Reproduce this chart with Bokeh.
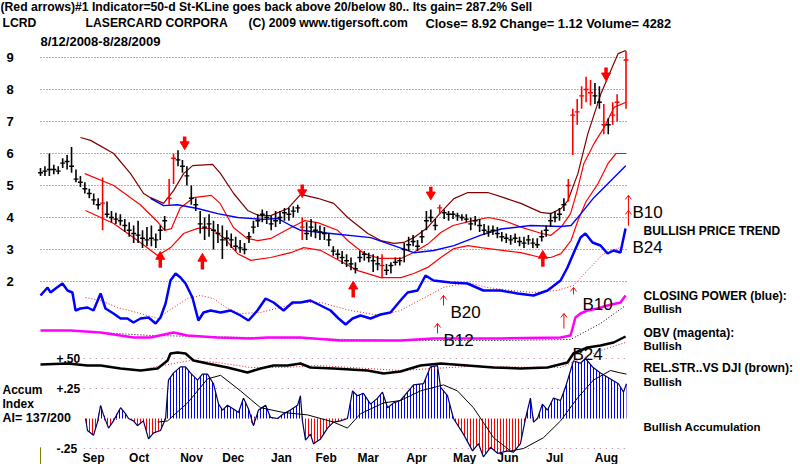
import numpy as np
from bokeh.plotting import figure
from bokeh.models import Range1d, Label
from bokeh.core.properties import value
from bokeh.embed import file_html
from bokeh.resources import INLINE

# ---------------- data ----------------
# daily bars sampled every 2 trading days from 8/12/2008 (day 0) to 8/28/2009 (day 264)
bar_day = list(range(0, 261, 2)) + [264]
bar_high = [5.55, 5.60, 6.00, 5.65, 5.60, 5.85, 5.95, 6.20, 5.50, 5.30,
            5.10, 4.90, 4.75, 4.60, 5.25, 4.50, 4.20, 4.15, 4.10, 3.95,
            3.85, 3.75, 3.90, 3.60, 3.70, 3.75, 3.50, 3.75, 4.05, 5.20,
            6.00, 6.10, 5.80, 5.60, 5.00, 4.60, 4.20, 4.00, 4.10, 3.90,
            3.80, 3.75, 3.60, 3.50, 3.40, 3.30, 3.20, 3.55, 3.90, 4.10,
            4.25, 4.20, 4.05, 4.20, 4.20, 4.30, 4.30, 4.35, 4.40, 4.00,
            3.85, 3.95, 3.85, 3.75, 3.70, 3.50, 3.10, 3.00, 2.95, 2.85,
            2.75, 2.60, 2.95, 2.95, 2.90, 2.85, 2.80, 2.85, 2.55, 2.60,
            2.75, 2.75, 3.20, 3.40, 3.45, 3.30, 3.60, 4.20, 4.25, 3.95,
            4.40, 4.25, 4.20, 4.20, 4.15, 4.10, 4.10, 4.00, 4.05, 3.95,
            3.80, 3.75, 3.75, 3.70, 3.55, 3.50, 3.45, 3.50, 3.40, 3.40,
            3.45, 3.35, 3.35, 3.60, 3.75, 4.15, 4.20, 4.30, 4.60, 5.20,
            7.40, 7.70, 8.10, 8.40, 8.30, 8.20, 8.10, 7.55, 7.10, 7.60,
            7.85, 9.20]
bar_low = [5.30, 5.30, 5.30, 5.35, 5.35, 5.55, 5.50, 5.40, 5.10, 4.95,
           4.75, 4.60, 4.40, 4.25, 3.60, 4.00, 3.85, 3.80, 3.75, 3.55,
           3.40, 3.20, 3.20, 3.05, 3.10, 3.10, 3.05, 3.30, 3.60, 4.40,
           5.05, 5.60, 5.40, 5.00, 4.40, 4.20, 3.50, 3.30, 3.40, 3.00,
           3.20, 2.70, 3.10, 3.05, 2.95, 2.90, 2.85, 3.20, 3.50, 3.70,
           3.85, 3.80, 3.60, 3.70, 3.80, 3.90, 3.90, 4.00, 4.15, 3.30,
           3.30, 3.40, 3.35, 3.30, 3.30, 3.10, 2.80, 2.70, 2.55, 2.45,
           2.35, 2.25, 2.60, 2.65, 2.60, 2.30, 2.35, 2.10, 2.20, 2.25,
           2.50, 2.50, 2.60, 2.95, 3.10, 2.95, 3.20, 3.60, 3.85, 3.60,
           4.10, 3.95, 3.90, 3.95, 3.90, 3.90, 3.85, 3.60, 3.75, 3.55,
           3.45, 3.40, 3.45, 3.35, 3.25, 3.20, 3.15, 3.20, 3.10, 3.05,
           3.15, 3.05, 3.05, 3.25, 3.40, 3.70, 3.85, 3.90, 4.20, 4.50,
           5.95, 6.90, 7.40, 7.60, 7.50, 7.55, 7.40, 6.60, 6.60, 6.90,
           7.00, 7.40]
bar_close = [5.40, 5.45, 5.50, 5.50, 5.45, 5.70, 5.75, 5.60, 5.20, 5.10,
             4.90, 4.75, 4.55, 4.40, 4.45, 4.10, 4.00, 3.95, 3.90, 3.75,
             3.60, 3.50, 3.45, 3.35, 3.30, 3.35, 3.30, 3.60, 3.90, 4.60,
             5.85, 5.80, 5.60, 5.30, 4.60, 4.40, 3.80, 3.70, 3.80, 3.60,
             3.50, 3.30, 3.35, 3.30, 3.10, 3.05, 3.00, 3.40, 3.70, 3.90,
             4.10, 4.00, 3.80, 3.90, 4.00, 4.15, 4.10, 4.20, 4.30, 3.70,
             3.50, 3.70, 3.60, 3.55, 3.50, 3.30, 2.95, 2.85, 2.75, 2.65,
             2.55, 2.40, 2.75, 2.85, 2.75, 2.65, 2.55, 2.50, 2.35, 2.50,
             2.60, 2.65, 3.00, 3.15, 3.25, 3.10, 3.40, 3.90, 4.00, 3.75,
             4.30, 4.15, 4.10, 4.10, 4.05, 4.00, 3.95, 3.80, 3.90, 3.75,
             3.60, 3.55, 3.60, 3.50, 3.40, 3.35, 3.30, 3.35, 3.25, 3.20,
             3.30, 3.20, 3.15, 3.40, 3.60, 3.90, 4.00, 4.10, 4.40, 5.00,
             7.20, 7.30, 7.80, 8.00, 7.90, 7.80, 7.60, 6.90, 6.90, 7.20,
             7.60, 8.92]
red_bar_index = [14, 29, 30, 59, 77, 90, 119, 120, 121, 122, 123, 124, 127, 129, 130, 131]

upper_day = [18, 22.6, 33, 40.6, 46.5, 49.6, 55.5, 60, 64.5, 68.6, 77.6, 81.2, 87.1, 93.4,
             98.4, 103.8, 111.5, 117.3, 125, 132.2, 138.5, 147.6, 153.4, 159.3, 163.8, 168.3,
             174.6, 180.5, 186.4, 192.7, 201.7, 208.9, 216.6, 225.6, 230.1, 234.7, 237.8,
             242.3, 246.8, 252.7, 257.2, 260.4, 263.9]
upper_val = [6.50, 6.41, 6.0, 5.37, 4.75, 4.62, 4.44, 4.84, 5.37, 5.62, 5.66, 5.37, 4.75, 4.22,
             4.06, 4.06, 4.28, 4.72, 4.60, 4.44, 4.0, 3.5, 3.28, 3.19, 3.22, 3.37,
             3.69, 4.16, 4.59, 4.78, 4.78, 4.62, 4.44, 4.16, 4.12, 4.28, 4.53,
             5.37, 6.62, 7.87, 8.6, 9.12, 9.22]
mid_day = [20, 33, 45, 53, 56, 59, 63, 69, 77, 81, 87, 93, 98, 104, 113, 119, 125, 134, 138.5,
           146, 153, 162.5, 168, 175, 180.5, 186, 195, 202, 209, 217, 226, 230, 235, 239, 242,
           245, 249.5, 254, 258.6, 264]
mid_val = [5.37, 5.0, 4.4, 3.85, 3.6, 3.65, 4.3, 4.62, 4.69, 4.44, 3.69, 3.35, 3.28, 3.35,
           3.69, 3.9, 3.84, 3.6, 3.28, 2.87, 2.72, 2.72, 2.9, 3.19, 3.53, 3.75, 3.9, 4.0, 3.9,
           3.69, 3.5, 3.44, 3.72, 4.12, 4.84, 5.69, 6.3, 6.8, 7.44, 7.6]
lower_day = [20.3, 33, 43.8, 52.8, 58.7, 64.5, 70.8, 76.7, 82.6, 88.9, 94.8, 103.8, 112.8,
             118.7, 126.4, 132.2, 143.1, 153.4, 162.5, 168.3, 174.6, 180.5, 186.4, 192.7,
             198.6, 216.6, 225.6, 230.1, 234.7, 239.2, 242.3, 246, 251.4, 255.9, 259.5, 264]
lower_val = [4.22, 3.81, 3.28, 2.81, 3.06, 3.5, 3.66, 3.66, 3.37, 2.87, 2.66, 2.75, 2.9,
             3.06, 2.97, 2.75, 2.34, 2.12, 2.12, 2.25, 2.44, 2.75, 3.03, 3.12,
             3.06, 2.9, 2.75, 2.75, 2.87, 3.28, 3.9, 4.5, 5.06, 5.69, 6.0, 6.0]
ma_day = [49.6, 55.5, 61.8, 70.8, 79.9, 88.9, 100.6, 106.9, 112.8, 117.3, 130.9, 148.9, 159.3,
          168.3, 177.3, 186.4, 198.6, 207.6, 221, 234.7, 239.2, 243.7, 249.5, 255.9, 263.9]
ma_val = [4.6, 4.37, 4.4, 4.28, 4.12, 4.0, 3.94, 3.97, 3.75, 3.6, 3.5, 3.37, 3.12,
          2.9, 2.97, 3.12, 3.45, 3.64, 3.75, 3.72, 3.75, 4.12, 4.62, 5.06, 5.62]

# Closing Power (relative units)
cp_day = [0, 3.2, 4.5, 6.8, 9.9, 12.2, 14.4, 15.8, 18, 21.2, 23.9, 27.1, 29.3, 32.9, 36.1, 39.2,
          41.9, 45.1, 48.7, 51.9, 54.1, 56.4, 58.6, 60.9, 63.1, 65.4, 68.5, 71.2, 73.5, 76.7,
          81.2, 85.7, 90.2, 93.8, 97.8, 101.5, 105.1, 109.6, 113.6, 117.2, 121.7, 126.3, 130.8,
          134.4, 137.6, 140.7, 144.3, 148.8, 153.3, 157.8, 162.3, 165.5, 170, 173.6, 177.2,
          184.9, 192.5, 199.7, 207.4, 215.1, 222.3, 228.6, 234.5, 237.6, 240.3, 243.5, 245.7,
          248.9, 252.5, 255.7, 258.4, 261.5, 263.8]
cp_val = [40, 48, 43, 47, 52, 45, 43, 25, 27, 28, 25, 42, 27, 22, 17, 17,
          13, 17, 18, 12, 18, 32, 55, 62, 58, 52, 38, 15, 23, 25,
          23, 25, 20, 15, 25, 37, 33, 25, 33, 33, 35, 30, 25,
          17, 11, 17, 20, 17, 21, 23, 35, 43, 45, 60, 55,
          53, 52, 45, 45, 42, 40, 45, 55, 68, 82, 98, 102,
          93, 90, 82, 85, 83, 107]
cp_ma_day = [20.3, 27.1, 34.7, 45.1, 52.8, 60, 66.3, 72.1, 78, 84.3, 90.2, 99.2, 108.2, 117.2,
             126.3, 139.8, 153.3, 162.3, 181.7, 192.5, 201.5, 211.9, 222.3, 233.1, 240.3,
             246.6, 253.9, 261.5]
cp_ma_val = [38, 35, 28, 22, 17, 28, 37, 40, 37, 27, 22, 23, 28, 33,
             33, 25, 20, 25, 48, 53, 48, 45, 43, 45, 50, 65, 82, 88]

# On-Balance Volume (relative units)
obv_day = [0, 13.5, 27.1, 42, 49.6, 60, 66.3, 79.8, 94.7, 102.4, 117.2, 135.3, 162.3, 177.2,
           207.4, 234.5, 239, 241.2, 243.5, 246.6, 251.1, 255.7, 261.5, 263.8]
obv_val = [15, 15, 13, 8, 8, 13, 10, 8, 7, 8, 8, 5, 5, 7, 7, 8, 10, 28, 32, 35, 37, 40, 43, 50]
obv_ma_day = [19.4, 49.6, 94.7, 117.2, 162.3, 207.4, 239, 252.5, 263.8]
obv_ma_val = [14, 10, 8, 7, 5, 5, 6, 22, 40]

# Relative strength vs DJI (relative units)
rs_day = [0, 12.2, 21.2, 27.1, 36.1, 45.1, 52.8, 57.3, 58.6, 61.8, 65.4, 69, 75.3, 84.3, 93.3,
          99.2, 105.1, 111.4, 117.2, 121.7, 132.1, 147.4, 154.7, 162.3, 171.3, 180.4, 192.5,
          204.3, 216.4, 228.6, 237.6, 240.3, 246.6, 252.5, 258.4, 263.8]
rs_val = [16, 17, 15, 15, 12, 10, 12, 20, 27, 28, 27, 20, 17, 13, 8,
          12, 15, 15, 17, 13, 12, 10, 7, 9, 15, 17, 15,
          13, 12, 13, 18, 27, 33, 35, 38, 44]
rs_ma_day = [48.2, 60, 67.6, 79.8, 94.7, 109.6, 124.9, 147.4, 162.3, 192.5, 234.5, 252.5, 263.8]
rs_ma_val = [12, 17, 20, 18, 13, 13, 15, 12, 10, 14, 13, 30, 38]

# Accumulation Index
acc_day = [20.3, 21.2, 23.9, 25.7, 27.1, 28.4, 30.7, 32.9, 36.1, 38.3, 39.7, 41.9, 43.7, 46.4,
           48.7, 51, 54.1, 56.4, 57.7, 60, 63.1, 65.4, 67.6, 70.8, 73, 75.3, 78, 80.3, 82.1,
           84.3, 87, 89.3, 91.5, 93.8, 96, 98.3, 101.5, 103.7, 106.9, 109.6, 112.7, 115.9,
           117.2, 118.1, 119.5, 121.7, 123.1, 126.3, 129.4, 132.1, 135.3, 138.4, 140.7, 142.9,
           145.6, 148.8, 152, 154.2, 156.5, 159.2, 162.3, 168.2, 172.7, 175.8, 179, 180.4,
           183.5, 186.2, 190.7, 194.8, 197.5, 199.7, 202.9, 206.1, 210.6, 213.3, 216.4, 218.7,
           220.9, 222.3, 224.1, 226.3, 228.6, 231.3, 234.5, 236.7, 239, 240.3, 243.5, 245.7,
           248.9, 252.5, 257, 260.6, 262.9, 264.2]
acc_val = [0.0, -0.10, -0.14, -0.03, 0.11, 0.03, -0.08, -0.02, 0.09, 0.04, 0.0, -0.02, -0.06, -0.02,
           -0.17, -0.12, -0.10, 0.0, 0.32, 0.38, 0.43, 0.43, 0.38, 0.32, 0.37, 0.37, 0.29, 0.12, 0.07,
           0.11, 0.08, 0.05, 0.17, 0.08, -0.06, 0.07, 0.11, 0.01, 0.0, 0.04, 0.07, 0.11,
           0.19, -0.02, -0.18, -0.13, -0.21, -0.17, -0.08, -0.03, -0.02, 0.0, 0.23, 0.19,
           0.21, 0.12, 0.17, 0.22, 0.09, 0.13, 0.15, 0.28, 0.29, 0.43, 0.44, 0.26,
           0.19, 0.0, -0.13, -0.27, -0.21, -0.32, -0.24, -0.29, -0.27, -0.28, -0.21, 0.0,
           0.17, -0.03, 0.0, 0.12, 0.07, 0.17, 0.15, 0.26, 0.40, 0.48, 0.46, 0.50,
           0.43, 0.38, 0.33, 0.29, 0.22, 0.29]
acc_ma_day = [52.8, 57.3, 66.3, 75.3, 81.2, 90.2, 99.2, 109.6, 120.4, 132.1, 138.4, 144.3, 154.7,
              162.3, 171.3, 181.7, 188, 195.2, 204.3, 211.9, 217.8, 226.8, 234.5, 242.1, 249.3,
              257, 261.5, 264.2]
acc_ma_val = [-0.03, -0.02, 0.13, 0.33, 0.36, 0.23, 0.09, 0.05, 0.03, -0.03, -0.08, 0.04, 0.13,
              0.15, 0.23, 0.28, 0.23, 0.09, -0.16, -0.27, -0.25, -0.16, -0.02, 0.17, 0.32,
              0.40, 0.38, 0.37]

# signals
sell_day = [65, 118, 176, 255]
sell_price = [6.19, 4.69, 4.62, 8.34]
buy_day = [54, 73, 141, 226.5]
buy_price = [2.87, 2.81, 1.94, 2.90]

price_ticks = [9, 8, 7, 6, 5, 4, 3, 2]
acc_ticks = [0.50, 0.25, -0.25]
acc_tick_labels = ["+.50", "+.25", "-.25"]
month_labels = ["Sep", "Oct", "Nov", "Dec", "Jan", "Feb", "Mar", "Apr", "May", "Jun", "Jul", "Aug"]
month_start_day = [14, 35, 58, 77, 99, 119, 138, 160, 181, 201, 223, 245]

# ---------------- layout / scales ----------------
W, H = 800, 464
FONT = "Liberation Sans"
LAST_DAY = 264
X_FIRST_PX, X_LAST_PX = 40.0, 625.5
PPD = (X_LAST_PX - X_FIRST_PX) / LAST_DAY          # pixels per day
PPU = 32.0                                           # pixels per dollar
PRICE_TOP = 9 + 57 / PPU                             # price at the top edge

x_range = Range1d(-X_FIRST_PX / PPD, (W - X_FIRST_PX) / PPD)
y_range = Range1d(PRICE_TOP - H / PPU, PRICE_TOP)

p = figure(width=W, height=H, x_range=x_range, y_range=y_range,
           x_axis_type=None, y_axis_type=None, toolbar_location=None,
           output_backend="svg", min_border=0, outline_line_color=None,
           background_fill_color="white", border_fill_color="white")
p.min_border_left = p.min_border_right = p.min_border_top = p.min_border_bottom = 0

# indicator panels: 1 unit = 1 px, zero at given pixel row; accum: 120 px per 1.0
p.extra_y_ranges = {
    "cp": Range1d(335 - H, 335),
    "obv": Range1d(345 - H, 345),
    "rs": Range1d(380 - H, 380),
    "acc": Range1d((418 - H) / 120.0, 418 / 120.0),
}


def ypx(y_top):
    """pixel row (from top) -> default (price) data units"""
    return PRICE_TOP - y_top / PPU


def label(text, x, y_top, size=12, bold=True, color="black"):
    p.add_layout(Label(x=x, x_units="screen", y=ypx(y_top), text=text,
                       text_font=FONT, text_font_size=f"{size}px",
                       text_font_style="bold" if bold else "normal",
                       text_baseline="middle", text_align="left", text_color=color))


# grid lines
p.segment(x0=[0] * len(price_ticks), x1=[265] * len(price_ticks), y0=price_ticks, y1=price_ticks,
          line_color="#10a010", line_width=1, line_dash="1 2")
p.segment(x0=[19.5] * 3, x1=[265] * 3, y0=acc_ticks, y1=acc_ticks, y_range_name="acc",
          line_color="#b07090", line_width=1, line_dash="1 5")

# accumulation histogram
acc = np.array(acc_val)
p.varea(x=acc_day, y1=0, y2=np.maximum(acc, 0), y_range_name="acc", fill_color="blue",
        fill_alpha=0.0, hatch_pattern="vertical_line", hatch_color="#0000ff", hatch_scale=3,
        hatch_weight=1)
p.varea(x=acc_day, y1=np.minimum(acc, 0), y2=0, y_range_name="acc", fill_color="red",
        fill_alpha=0.0, hatch_pattern="vertical_line", hatch_color="#ff0000", hatch_scale=3,
        hatch_weight=1)
p.line(acc_day, acc_val, y_range_name="acc", line_color="#000060", line_width=1.2)
p.line(acc_ma_day, acc_ma_val, y_range_name="acc", line_color="black", line_width=1)
p.segment(x0=[0], x1=[0], y0=[-0.24], y1=[-0.40], y_range_name="acc", line_color="#808000", line_width=1)

# relative strength
p.line(rs_ma_day, rs_ma_val, y_range_name="rs", line_color="#e02020", line_width=1, line_dash="1 2")
p.line(rs_day, rs_val, y_range_name="rs", line_color="black", line_width=2.5)

# OBV
p.line(obv_ma_day, obv_ma_val, y_range_name="obv", line_color="black", line_width=1, line_dash="1 2")
p.line(obv_day, obv_val, y_range_name="obv", line_color="#ff00ff", line_width=2.5)

# closing power
p.line(cp_ma_day, cp_ma_val, y_range_name="cp", line_color="#e02020", line_width=1, line_dash="1 2")
p.line(cp_day, cp_val, y_range_name="cp", line_color="#0000ff", line_width=2.5)

# price bands and averages
p.line(upper_day, upper_val, line_color="#800000", line_width=1.2)
p.line(mid_day, mid_val, line_color="#ff0000", line_width=1.2)
p.line(lower_day, lower_val, line_color="#ff0000", line_width=1.2)
p.line(ma_day, ma_val, line_color="#0000ff", line_width=1.4)

# price bars
bar_color = ["#ff0000" if i in red_bar_index else "black" for i in range(len(bar_day))]
bd = np.array(bar_day, dtype=float)
p.segment(x0=bd, x1=bd, y0=bar_low, y1=bar_high, line_color=bar_color, line_width=1.6)
p.segment(x0=bd - 1.1, x1=bd + 1.1, y0=bar_close, y1=bar_close, line_color=bar_color, line_width=1.4)

# signal arrows (thick red)
px = 1 / PPU
sd = np.array(sell_day, dtype=float); sp = np.array(sell_price)
p.segment(x0=sd, x1=sd, y0=sp + 11 * px, y1=sp + 4 * px, line_color="red", line_width=3.5)
p.scatter(sd, sp + 3 * px, marker="inverted_triangle", size=9, fill_color="red", line_color="red")
bdd = np.array(buy_day, dtype=float); bp = np.array(buy_price)
p.segment(x0=bdd, x1=bdd, y0=bp - 14 * px, y1=bp - 4 * px, line_color="red", line_width=3.5)
p.scatter(bdd, bp - 3 * px, marker="triangle", size=9, fill_color="red", line_color="red")

# thin signal arrows (open heads)
hx = 1.4  # head half width in days


def thin_arrow(d, y0, y1, rng, unit):
    kw = {} if rng is None else {"y_range_name": rng}
    p.segment(x0=[d], x1=[d], y0=[y0], y1=[y1], line_color="red", line_width=1, **kw)
    p.segment(x0=[d - hx, d], x1=[d, d + hx], y0=[y1 - 4 * unit, y1], y1=[y1, y1 - 4 * unit],
              line_color="red", line_width=1, **kw)


thin_arrow(181.7, 30, 40, "cp", 1)
thin_arrow(240.3, 41, 48, "cp", 1)
thin_arrow(179.0, 12, 22, "obv", 1)
thin_arrow(236.0, 17, 32, "obv", 1)
thin_arrow(265.1, 3.75, 4.69, None, px)
thin_arrow(265.1, 3.75, 4.22, None, px)

# month labels
p.text(x=month_start_day, y=[-0.329] * len(month_start_day), text=month_labels, y_range_name="acc",
       x_offset=11, text_font=value(FONT), text_font_size="12px", text_font_style="bold",
       text_baseline="middle", text_align="left", text_color="black")

# ---------------- texts ----------------
label("(Red arrows)#1 Indicator=50-d St-KLine goes back above 20/below 80.. Its gain= 287.2% Sell", 0, 6.5, size=12.2)
label("LCRD", 2, 22.5, size=12.2)
label("LASERCARD CORPORA", 85, 22.5, size=12.2)
label("(C) 2009 www.tigersoft.com", 248, 22.5, size=12.2)
label("Close=  8.92  Change= 1.12 Volume=  4282", 425, 22.5, size=12.8)
label("8/12/2008-8/28/2009", 40, 40.5, size=13)
for t in price_ticks:
    label(str(t), 6, 57 + PPU * (9 - t), size=13)
for v, t in zip(acc_ticks, acc_tick_labels):
    label(t, 56, 418 - 120 * v, size=12)
label("Accum", 2, 389, size=12)
label("Index", 2, 403, size=12)
label("AI= 137/200", 2, 417, size=12.5)

label("B10", 632, 211.5, size=17, bold=False)
label("BULLISH PRICE TREND", 643, 230, size=12)
label("B24", 632, 246.5, size=17, bold=False)
label("CLOSING POWER (blue):", 643, 295, size=12)
label("Bullish", 643, 308.5, size=11.5)
label("OBV (magenta):", 643, 332, size=12)
label("Bullish", 643, 345.5, size=11.5)
label("REL.STR..VS DJI (brown):", 643, 367, size=12.2)
label("Bullish", 643, 381, size=11.5)
label("Bullish Accumulation", 643, 426.5, size=11.5)
label("B20", 450, 311.5, size=17, bold=False)
label("B12", 443, 340, size=17, bold=False)
label("B10", 582, 303.5, size=17, bold=False)
label("B24", 572, 353.5, size=17, bold=False)

open("out.html", "w").write(file_html(p, INLINE))
